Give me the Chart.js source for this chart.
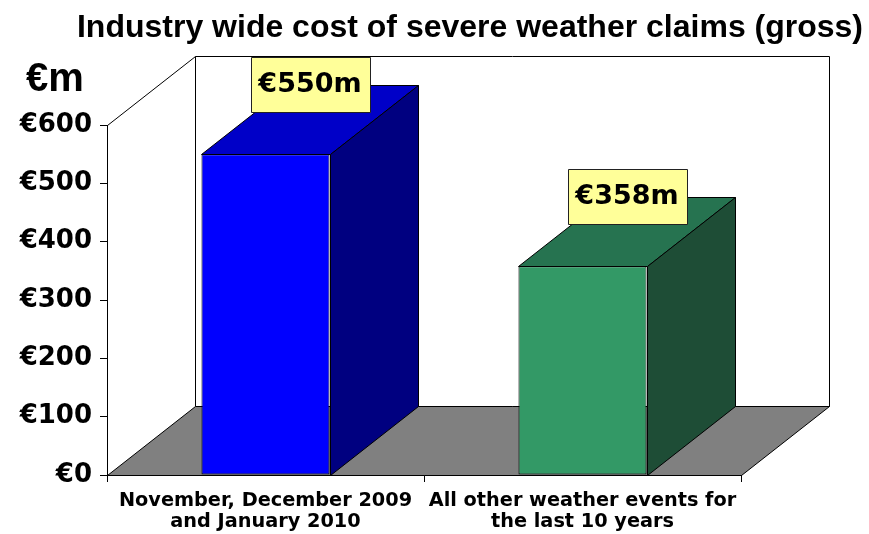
<!DOCTYPE html>
<html>
<head>
<meta charset="utf-8">
<script src="https://cdn.jsdelivr.net/npm/chart.js@4/dist/chart.umd.min.js"></script>
<style>
  html, body { margin: 0; padding: 0; background: #ffffff; }
  #c { display: block; }
</style>
</head>
<body>
<canvas id="c" width="869" height="534"></canvas>
<script>
// Chart content
const categories = [
  ["November, December 2009", "and January 2010"],
  ["All other weather events for", "the last 10 years"]
];
const claimValues = [550, 358];
const valueLabels = ["€550m", "€358m"];
const yTickLabels = ["€0", "€100", "€200", "€300", "€400", "€500", "€600"];
const titleText = "Industry wide cost of severe weather claims (gross)";
const unitText = "€m";

// Face colours for each bar: front, top, side
const frontColors = ["#0000FF", "#339966"];
const topColors = ["#0000C8", "#267350"];
const sideColors = ["#000080", "#1E4D36"];

// Depth of the 3D box (pixels right / up)
const DX = 88;
const DY = 69;
const crisp = v => Math.round(v) + 0.5;

const box3d = {
  id: 'box3d',
  beforeDraw(chart) {
    const { ctx, chartArea: a } = chart;
    const L = crisp(a.left), R = crisp(a.right), T = crisp(a.top), B = crisp(a.bottom);
    ctx.save();
    ctx.lineWidth = 1;
    ctx.strokeStyle = '#000';
    // back wall
    ctx.fillStyle = '#ffffff';
    ctx.beginPath();
    ctx.rect(L + DX, T - DY, R - L, B - T);
    ctx.fill();
    ctx.stroke();
    // floor
    ctx.fillStyle = '#808080';
    ctx.beginPath();
    ctx.moveTo(L, B);
    ctx.lineTo(R, B);
    ctx.lineTo(R + DX, B - DY);
    ctx.lineTo(L + DX, B - DY);
    ctx.closePath();
    ctx.fill();
    ctx.stroke();
    // side wall top edge
    ctx.beginPath();
    ctx.moveTo(L, T);
    ctx.lineTo(L + DX, T - DY);
    ctx.stroke();
    ctx.restore();
  },
  afterDatasetsDraw(chart) {
    const { ctx } = chart;
    const meta = chart.getDatasetMeta(0);
    ctx.save();
    ctx.lineWidth = 1;
    meta.data.forEach((bar, i) => {
      const p = bar.getProps(['x', 'y', 'base', 'width'], true);
      const l = crisp(p.x - p.width / 2), r = crisp(p.x + p.width / 2);
      const y = crisp(p.y), b = crisp(p.base);
      ctx.strokeStyle = '#000';
      // top face
      ctx.fillStyle = topColors[i];
      ctx.beginPath();
      ctx.moveTo(l, y);
      ctx.lineTo(r, y);
      ctx.lineTo(r + DX, y - DY);
      ctx.lineTo(l + DX, y - DY);
      ctx.closePath();
      ctx.fill();
      ctx.stroke();
      // side face
      ctx.fillStyle = sideColors[i];
      ctx.beginPath();
      ctx.moveTo(r, y);
      ctx.lineTo(r, b);
      ctx.lineTo(r + DX, b - DY);
      ctx.lineTo(r + DX, y - DY);
      ctx.closePath();
      ctx.fill();
      ctx.stroke();

      // value label in a yellow box above the top face
      const cx = Math.round(p.x + DX / 2);
      const cy = Math.round(p.y - DY - 1);
      const bw = 119, bh = 55;
      ctx.fillStyle = '#FFFF99';
      ctx.strokeStyle = '#222';
      ctx.beginPath();
      ctx.rect(crisp(cx - bw / 2), crisp(cy - bh / 2), bw, bh);
      ctx.fill();
      ctx.stroke();
      ctx.fillStyle = '#000';
      ctx.font = 'bold 27px "DejaVu Sans"';
      ctx.textAlign = 'center';
      ctx.textBaseline = 'middle';
      ctx.fillText(valueLabels[i], cx, cy + 1);
    });
    ctx.restore();
  },
  afterDraw(chart) {
    const { ctx, chartArea: a } = chart;
    ctx.save();
    ctx.fillStyle = '#000';
    // chart title, centred over the box
    ctx.font = 'bold 32px "Liberation Sans"';
    ctx.textAlign = 'center';
    ctx.textBaseline = 'alphabetic';
    ctx.fillText(titleText, (a.left + a.right + DX) / 2 + 2, 37);
    // unit label above the value axis
    ctx.font = 'bold 40px "Liberation Sans"';
    ctx.textAlign = 'left';
    ctx.fillText(unitText, a.left - 81, a.top - 34);
    ctx.restore();
  }
};

new Chart(document.getElementById('c'), {
  type: 'bar',
  data: {
    labels: categories,
    datasets: [{
      data: claimValues,
      backgroundColor: frontColors,
      borderColor: '#000',
      borderWidth: 1,
      borderSkipped: false,
      barPercentage: 1,
      categoryPercentage: 0.404
    }]
  },
  options: {
    responsive: false,
    animation: false,
    events: [],
    layout: { padding: { top: 125, right: 128, bottom: 0, left: 0 } },
    plugins: {
      legend: { display: false },
      tooltip: { enabled: false },
      title: { display: false }
    },
    scales: {
      x: {
        grid: { display: true, drawOnChartArea: false, drawTicks: true, tickLength: 7, color: '#000', offset: true },
        border: { display: true, color: '#000', width: 1 },
        ticks: {
          color: '#000',
          font: { family: '"DejaVu Sans"', size: 19.3, weight: 'bold', lineHeight: 1.1 },
          padding: 8,
          maxRotation: 0,
          autoSkip: false
        },
        afterFit(scale) { scale.height = 59; }
      },
      y: {
        min: 0,
        max: 600,
        grid: { display: true, drawOnChartArea: false, drawTicks: true, tickLength: 7, color: '#000' },
        border: { display: true, color: '#000', width: 1 },
        ticks: {
          stepSize: 100,
          color: '#000',
          font: { family: '"DejaVu Sans"', size: 26, weight: 'bold' },
          padding: 8,
          callback: (v) => yTickLabels[Math.round(v / 100)]
        },
        afterFit(scale) { scale.width = 107; }
      }
    }
  },
  plugins: [box3d]
});
</script>
</body>
</html>
